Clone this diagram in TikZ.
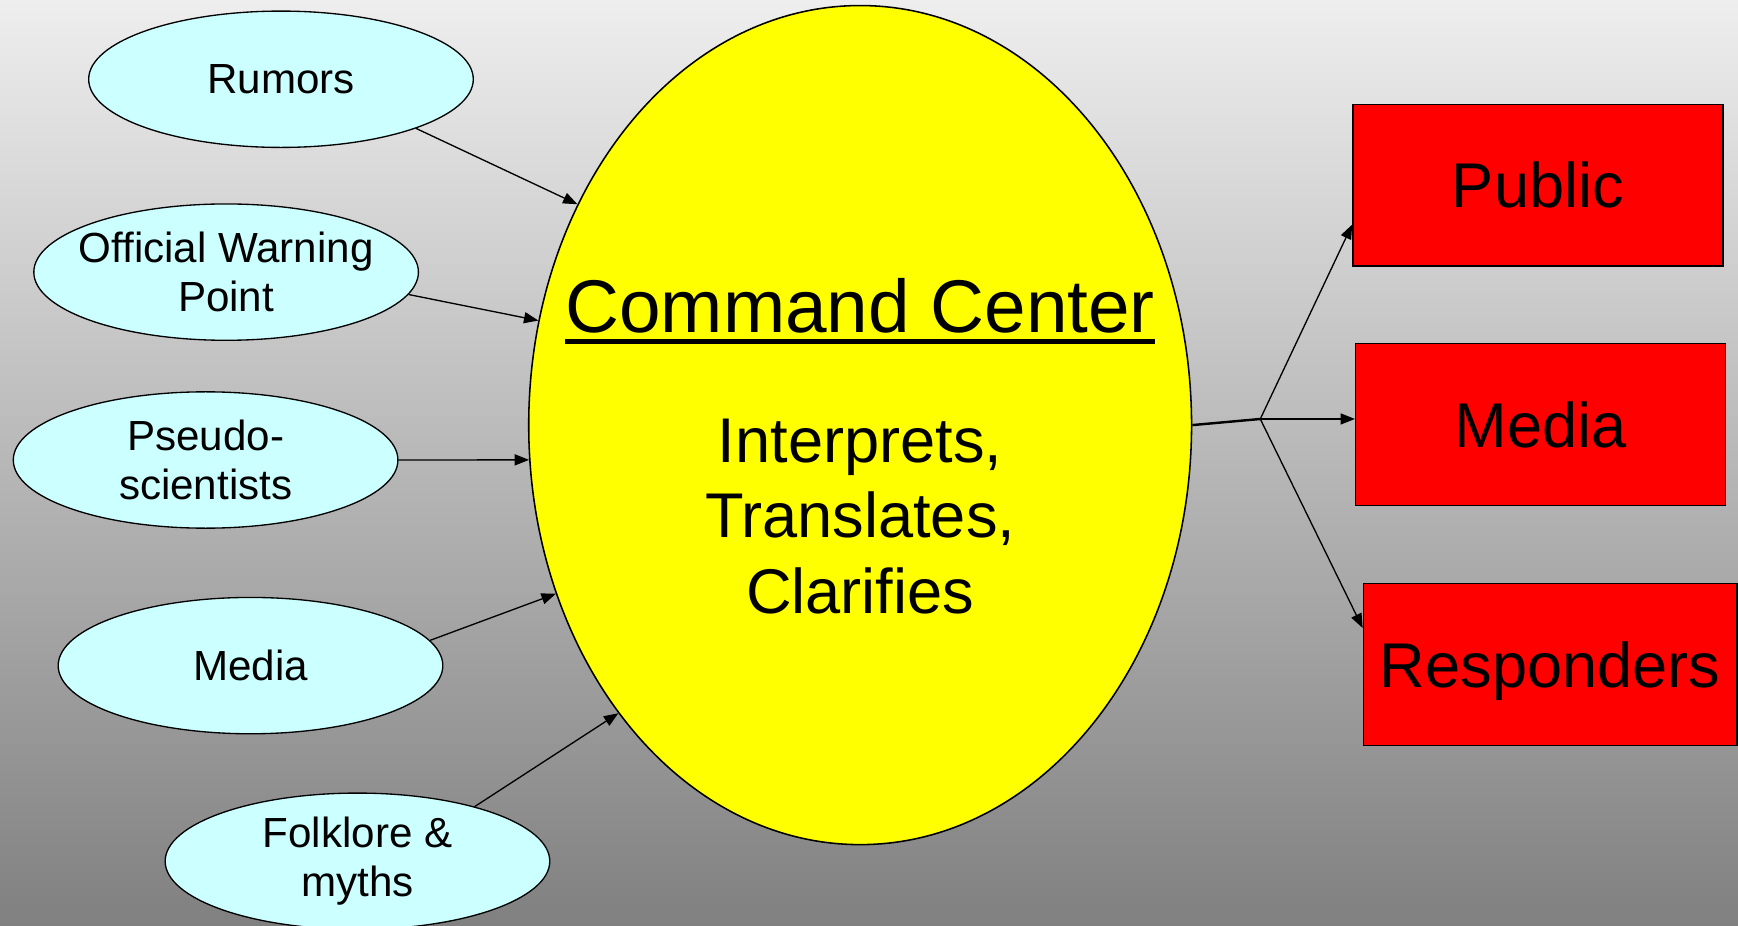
\documentclass[tikz,border=0pt]{standalone}
\usepackage{fontspec}
\setmainfont{Liberation Sans}
\usetikzlibrary{shapes.geometric,arrows.meta}
\definecolor{bgtop}{RGB}{238,238,238}
\definecolor{bgbottom}{RGB}{128,128,128}
\definecolor{srcfill}{RGB}{204,255,255}
\definecolor{ccfill}{RGB}{255,255,0}
\begin{document}
\begin{tikzpicture}
    [x=0.5pt,y=-0.5pt,
    source/.style={ellipse,draw,fill=srcfill,line width=0.6pt,minimum width=173.5pt,minimum height=61.5pt,inner sep=0pt},
    sourcetext/.style={align=center,inner sep=0pt,font=\fontsize{19}{22}\selectfont},
    target/.style={rectangle,draw,fill=red,line width=0.6pt,minimum width=167pt,minimum height=73pt,inner sep=0pt,
        text height=20.4pt,text depth=0pt,font=\fontsize{28.5}{34}\selectfont},
    feed/.style={-{Triangle[length=6.5pt,width=5pt]},line width=0.6pt}]
    \shade[top color=bgtop,bottom color=bgbottom] (0,0) rectangle (1568,835);
    \useasboundingbox (0,0) rectangle (1568,835);

    % sources
    \node[source] (rumors) at (253.5,71.5) {};
    \node[source] (warning) at (204,245.5) {};
    \node[source] (pseudo) at (185.5,415) {};
    \node[source] (media) at (226,600.5) {};
    \node[source] (folklore) at (322.5,777) {};
    \node[sourcetext] (rumors-t) at (rumors) {Rumors};
    \node[sourcetext] (warning-t) at (warning) {Official Warning\\Point};
    \node[sourcetext] (pseudo-t) at (pseudo) {Pseudo-\\scientists};
    \node[sourcetext] (media-t) at (media) {Media};
    \node[sourcetext] (folklore-t) at (folklore) {Folklore \&\\myths};

    % command center
    \node[ellipse,draw,fill=ccfill,line width=0.7pt,minimum width=299pt,minimum height=378.5pt,inner sep=0pt] (cc) at (776,383.5) {};
    \node[inner sep=0pt,anchor=base,font=\fontsize{33.7}{40}\selectfont] (cc-title) at (776,300) {Command Center};
    \draw[line width=2.6pt] ([yshift=-4pt]cc-title.base west) -- ([yshift=-4pt]cc-title.base east);
    \node[align=center,inner sep=0pt,font=\fontsize{28.5}{34}\selectfont] (cc-role) at (776,466) {Interprets,\\Translates,\\Clarifies};

    % audiences
    \node[target] (public) at (1387.5,167) {Public};
    \node[target] (mediaout) at (1390,383) {Media};
    \node[target,minimum width=168.5pt] (responders) at (1398.5,599.5) {Responders};

    \draw[feed] (rumors.-20) -- (cc.142);
    \draw[feed] (warning.-7) -- (cc.162);
    \draw[feed] (pseudo.0) -- (cc.-174);
    \draw[feed] (media.8) -- (cc.-151);
    \draw[feed] (folklore.25) -- (cc.-130);

    \coordinate (split) at (1137,378);
    \draw[line width=1.1pt] (cc.0) -- (split);
    \draw[feed] (split) -- (public.192);
    \draw[feed] (split) -- (mediaout.west |- split);
    \draw[feed] (split) -- (responders.169);
\end{tikzpicture}
\end{document}
